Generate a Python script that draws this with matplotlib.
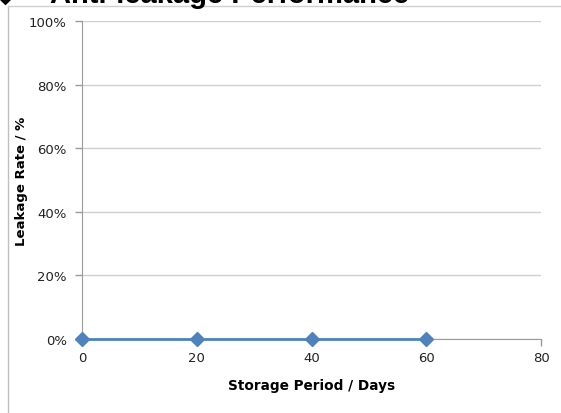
import matplotlib
matplotlib.use("Agg")
import matplotlib.pyplot as plt
from matplotlib.lines import Line2D
from matplotlib.ticker import FuncFormatter

# data
days = [0, 20, 40, 60]
leakage = [0, 0, 0, 0]
x_ticks = [0, 20, 40, 60, 80]
y_ticks = [0, 0.2, 0.4, 0.6, 0.8, 1.0]

W, H = 561, 414
fig = plt.figure(figsize=(W / 100, H / 100), dpi=100)
ax = fig.add_axes([82 / W, 1 - 340 / H, (541 - 82) / W, (340 - 22) / H])

grid_col = "#d0d0d0"
axis_col = "#9a9a9a"

ax.plot(days, leakage, color="#4f81bd", lw=2, marker="D", ms=7,
        mec="#4f81bd", mfc="#4f81bd", clip_on=False, zorder=5)

ax.set_xlim(0, 80)
ax.set_ylim(0, 1)
ax.set_xticks(x_ticks)
ax.set_yticks(y_ticks)
ax.yaxis.set_major_formatter(FuncFormatter(lambda v, p: f"{v:.0%}"))
ax.grid(axis="y", color=grid_col, lw=1)
ax.set_axisbelow(True)

for s in ["top", "right"]:
    ax.spines[s].set_visible(False)
ax.spines["left"].set_color(axis_col)
ax.spines["bottom"].set_color(axis_col)
ax.tick_params(axis="both", colors=axis_col, labelcolor="#222222",
               labelsize=9.5, length=5, width=1)
ax.tick_params(axis="x", pad=4)
ax.tick_params(axis="y", pad=6)

ax.set_xlabel("Storage Period / Days", fontsize=9.8, fontweight="bold",
              labelpad=10)
ax.set_ylabel("Leakage Rate / %", fontsize=9.5, fontweight="bold")
ax.yaxis.set_label_coords((22 - 82) / 459, 0.5)
ax.yaxis.label.set_va("center")

# outer chart border (partially visible)
fig.add_artist(Line2D([8 / W, 8 / W], [0, 1 - 7 / H], transform=fig.transFigure,
                      color="#bfbfbf", lw=1))
fig.add_artist(Line2D([8 / W, 1], [1 - 7 / H, 1 - 7 / H], transform=fig.transFigure,
                      color="#d0d0d0", lw=1))

# title, cut off at top
fig.text(-2 / W, 1 - 3 / H, "\u25c6", fontsize=14, va="baseline", ha="left")
fig.text(50 / W, 1 - 3 / H, "Anti-leakage Performance", fontsize=21,
         fontweight="bold", family="Liberation Sans", va="baseline", ha="left")

fig.savefig("out.png", dpi=100)
